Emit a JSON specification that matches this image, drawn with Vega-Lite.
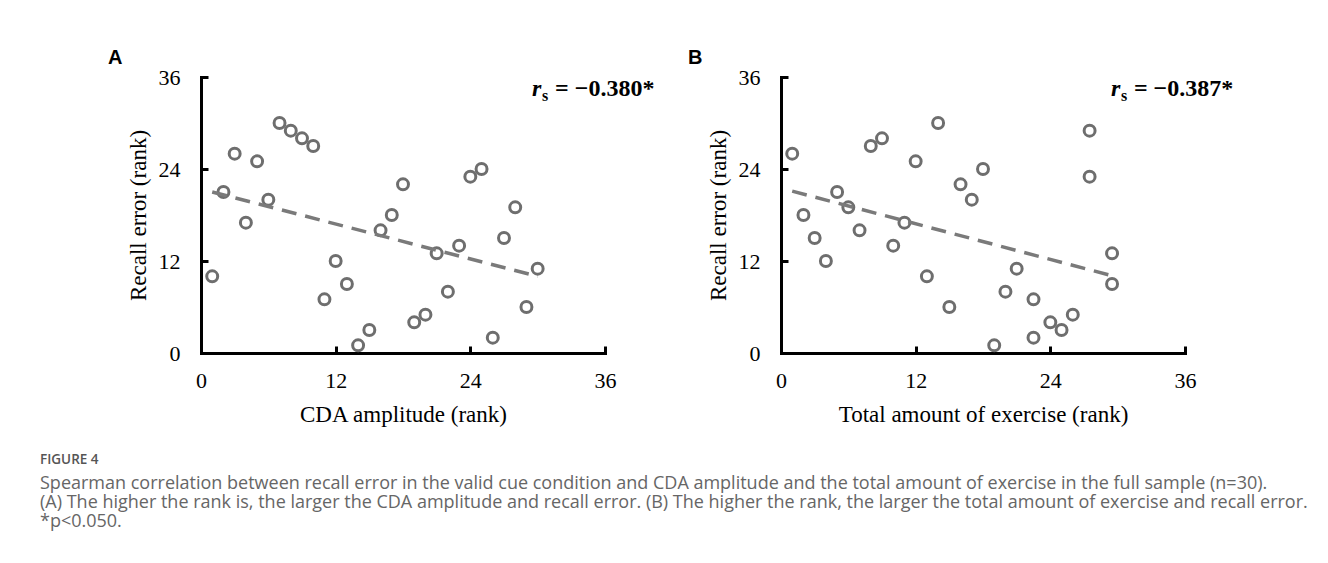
{
  "$schema": "https://vega.github.io/schema/vega-lite/v6.json",
  "padding": {"left": 40, "top": 48, "right": 0, "bottom": 0},
  "background": "white",
  "datasets": {
    "A": [
      {"x": 1, "y": 10}, {"x": 2, "y": 21}, {"x": 3, "y": 26}, {"x": 4, "y": 17}, {"x": 5, "y": 25},
      {"x": 6, "y": 20}, {"x": 7, "y": 30}, {"x": 8, "y": 29}, {"x": 9, "y": 28}, {"x": 10, "y": 27},
      {"x": 11, "y": 7}, {"x": 12, "y": 12}, {"x": 13, "y": 9}, {"x": 14, "y": 1}, {"x": 15, "y": 3},
      {"x": 16, "y": 16}, {"x": 17, "y": 18}, {"x": 18, "y": 22}, {"x": 19, "y": 4}, {"x": 20, "y": 5},
      {"x": 21, "y": 13}, {"x": 22, "y": 8}, {"x": 23, "y": 14}, {"x": 24, "y": 23}, {"x": 25, "y": 24},
      {"x": 26, "y": 2}, {"x": 27, "y": 15}, {"x": 28, "y": 19}, {"x": 29, "y": 6}, {"x": 30, "y": 11}
    ],
    "B": [
      {"x": 1, "y": 26}, {"x": 2, "y": 18}, {"x": 3, "y": 15}, {"x": 4, "y": 12}, {"x": 5, "y": 21},
      {"x": 6, "y": 19}, {"x": 7, "y": 16}, {"x": 8, "y": 27}, {"x": 9, "y": 28}, {"x": 10, "y": 14},
      {"x": 11, "y": 17}, {"x": 12, "y": 25}, {"x": 13, "y": 10}, {"x": 14, "y": 30}, {"x": 15, "y": 6},
      {"x": 16, "y": 22}, {"x": 17, "y": 20}, {"x": 18, "y": 24}, {"x": 19, "y": 1}, {"x": 20, "y": 8},
      {"x": 21, "y": 11}, {"x": 22.5, "y": 2}, {"x": 22.5, "y": 7}, {"x": 24, "y": 4}, {"x": 25, "y": 3},
      {"x": 26, "y": 5}, {"x": 27.5, "y": 29}, {"x": 27.5, "y": 23}, {"x": 29.5, "y": 13}, {"x": 29.5, "y": 9}
    ]
  },
  "title": {
    "text": "FIGURE 4",
    "subtitle": [
      "Spearman correlation between recall error in the valid cue condition and CDA amplitude and the total amount of exercise in the full sample (n=30).",
      "(A) The higher the rank is, the larger the CDA amplitude and recall error. (B) The higher the rank, the larger the total amount of exercise and recall error.",
      "*p<0.050."
    ],
    "orient": "bottom",
    "anchor": "start",
    "frame": "bounds",
    "dx": -68,
    "offset": 27,
    "font": "Open Sans",
    "fontSize": 13.5,
    "fontWeight": 600,
    "color": "#555555",
    "subtitleFont": "Open Sans",
    "subtitleFontSize": 18,
    "subtitleColor": "#666666",
    "subtitleLineHeight": 19,
    "subtitlePadding": 8
  },
  "spacing": 176,
  "bounds": "flush",
  "hconcat": [
    {
      "width": 404,
      "height": 276,
      "title": {"text": "A", "anchor": "start", "frame": "group", "dx": -93, "offset": -2, "font": "Liberation Sans", "fontSize": 20, "fontWeight": "bold", "color": "black"},
      "data": {"name": "A"},
      "layer": [
        {
          "mark": {"type": "point", "shape": "circle", "filled": false, "size": 120, "strokeWidth": 3, "color": "#6e6e6e", "opacity": 1},
          "encoding": {
            "x": {"field": "x", "type": "quantitative", "scale": {"domain": [0, 36], "nice": false}, "axis": {"title": "CDA amplitude (rank)", "values": [0, 12, 24, 36]}},
            "y": {"field": "y", "type": "quantitative", "scale": {"domain": [0, 36], "nice": false}, "axis": {"title": "Recall error (rank)", "values": [0, 12, 24, 36]}}
          }
        },
        {
          "transform": [{"regression": "y", "on": "x"}],
          "mark": {"type": "line", "strokeDash": [15, 9], "strokeWidth": 3.5, "color": "#7a7a7a"},
          "encoding": {
            "x": {"field": "x", "type": "quantitative", "scale": {"domain": [0, 36], "nice": false}},
            "y": {"field": "y", "type": "quantitative", "scale": {"domain": [0, 36], "nice": false}}
          }
        },
        {
          "data": {"values": [{"t": "= \u22120.380*"}]},
          "mark": {"type": "text", "text": "r", "font": "Liberation Serif", "fontSize": 24, "fontWeight": "bold", "fontStyle": "italic", "align": "left", "baseline": "alphabetic", "color": "black"},
          "encoding": {"x": {"datum": 29.5, "type": "quantitative", "scale": {"domain": [0, 36], "nice": false}}, "y": {"datum": 33.5, "type": "quantitative", "scale": {"domain": [0, 36], "nice": false}}}
        },
        {
          "data": {"values": [{"t": "= \u22120.380*"}]},
          "mark": {"type": "text", "text": "s", "font": "Liberation Serif", "fontSize": 16, "fontWeight": "bold", "align": "left", "baseline": "alphabetic", "dx": 10, "dy": 5, "color": "black"},
          "encoding": {"x": {"datum": 29.5, "type": "quantitative", "scale": {"domain": [0, 36], "nice": false}}, "y": {"datum": 33.5, "type": "quantitative", "scale": {"domain": [0, 36], "nice": false}}}
        },
        {
          "data": {"values": [{"t": "= \u22120.380*"}]},
          "mark": {"type": "text", "font": "Liberation Serif", "fontSize": 24, "fontWeight": "bold", "align": "left", "baseline": "alphabetic", "dx": 23, "color": "black"},
          "encoding": {"x": {"datum": 29.5, "type": "quantitative", "scale": {"domain": [0, 36], "nice": false}}, "y": {"datum": 33.5, "type": "quantitative", "scale": {"domain": [0, 36], "nice": false}}, "text": {"field": "t"}}
        }
      ]
    },
    {
      "width": 404,
      "height": 276,
      "title": {"text": "B", "anchor": "start", "frame": "group", "dx": -93, "offset": -2, "font": "Liberation Sans", "fontSize": 20, "fontWeight": "bold", "color": "black"},
      "data": {"name": "B"},
      "layer": [
        {
          "mark": {"type": "point", "shape": "circle", "filled": false, "size": 120, "strokeWidth": 3, "color": "#6e6e6e", "opacity": 1},
          "encoding": {
            "x": {"field": "x", "type": "quantitative", "scale": {"domain": [0, 36], "nice": false}, "axis": {"title": "Total amount of exercise (rank)", "values": [0, 12, 24, 36]}},
            "y": {"field": "y", "type": "quantitative", "scale": {"domain": [0, 36], "nice": false}, "axis": {"title": "Recall error (rank)", "values": [0, 12, 24, 36]}}
          }
        },
        {
          "transform": [{"regression": "y", "on": "x"}],
          "mark": {"type": "line", "strokeDash": [15, 9], "strokeWidth": 3.5, "color": "#7a7a7a"},
          "encoding": {
            "x": {"field": "x", "type": "quantitative", "scale": {"domain": [0, 36], "nice": false}},
            "y": {"field": "y", "type": "quantitative", "scale": {"domain": [0, 36], "nice": false}}
          }
        },
        {
          "data": {"values": [{"t": "= \u22120.387*"}]},
          "mark": {"type": "text", "text": "r", "font": "Liberation Serif", "fontSize": 24, "fontWeight": "bold", "fontStyle": "italic", "align": "left", "baseline": "alphabetic", "color": "black"},
          "encoding": {"x": {"datum": 29.4, "type": "quantitative", "scale": {"domain": [0, 36], "nice": false}}, "y": {"datum": 33.5, "type": "quantitative", "scale": {"domain": [0, 36], "nice": false}}}
        },
        {
          "data": {"values": [{"t": "= \u22120.387*"}]},
          "mark": {"type": "text", "text": "s", "font": "Liberation Serif", "fontSize": 16, "fontWeight": "bold", "align": "left", "baseline": "alphabetic", "dx": 10, "dy": 5, "color": "black"},
          "encoding": {"x": {"datum": 29.4, "type": "quantitative", "scale": {"domain": [0, 36], "nice": false}}, "y": {"datum": 33.5, "type": "quantitative", "scale": {"domain": [0, 36], "nice": false}}}
        },
        {
          "data": {"values": [{"t": "= \u22120.387*"}]},
          "mark": {"type": "text", "font": "Liberation Serif", "fontSize": 24, "fontWeight": "bold", "align": "left", "baseline": "alphabetic", "dx": 23, "color": "black"},
          "encoding": {"x": {"datum": 29.4, "type": "quantitative", "scale": {"domain": [0, 36], "nice": false}}, "y": {"datum": 33.5, "type": "quantitative", "scale": {"domain": [0, 36], "nice": false}}, "text": {"field": "t"}}
        }
      ]
    }
  ],
  "config": {
    "view": {"stroke": null},
    "axis": {
      "grid": false,
      "domainColor": "black",
      "domainWidth": 3,
      "domainCap": "square",
      "tickColor": "black",
      "tickWidth": 3,
      "tickSize": -7,
      "labelFont": "Liberation Serif",
      "labelFontSize": 22,
      "labelColor": "black",
      "labelFlush": false,
      "titleFont": "Liberation Serif",
      "titleFontSize": 23,
      "titleFontWeight": "normal",
      "titleColor": "black"
    },
    "axisX": {"labelPadding": 24, "titlePadding": 12},
    "axisY": {"labelPadding": 28, "titlePadding": 8}
  }
}
